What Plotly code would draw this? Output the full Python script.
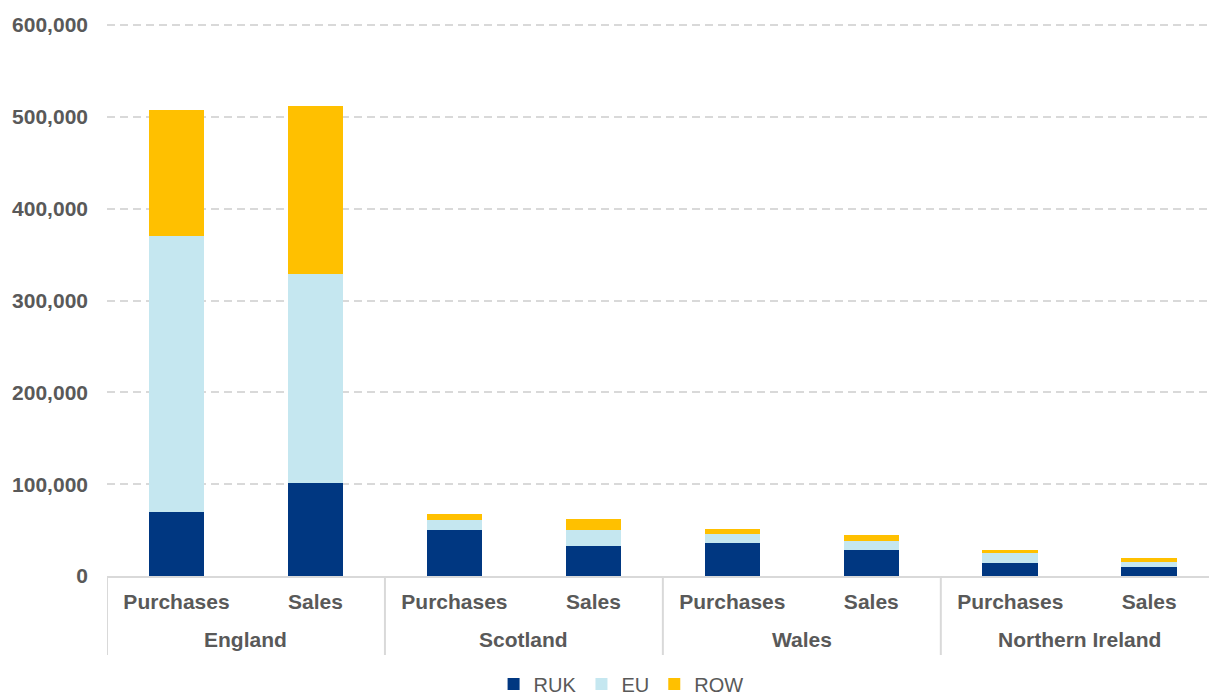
import plotly.graph_objects as go

# Regions and flow types
region_names = ["England", "Scotland", "Wales", "Northern Ireland"]
flows = ["Purchases", "Sales"] * 4

# Values by destination/origin, in region order (Purchases, Sales)
ruk = [70000, 101500, 50000, 32400, 35500, 28000, 14500, 9800]
eu = [300600, 227800, 11500, 17400, 10600, 9800, 10100, 5800]
row = [137000, 183000, 6500, 12000, 5500, 6600, 3700, 4300]

series = [("RUK", ruk, "#003781"), ("EU", eu, "#C5E7F0"), ("ROW", row, "#FFC000")]

FONT = "Liberation Sans, Arial, sans-serif"
GREY = "#595959"
LINE = "#d9d9d9"

positions = list(range(len(flows)))

fig = go.Figure()
for name, vals, color in series:
    fig.add_trace(go.Bar(
        name=name, x=positions, y=vals,
        marker=dict(color=color, line=dict(width=0)),
    ))

# Plot-area geometry (pixels) used for paper-referenced decorations
top, bottom = 24, 119
height = 695
plot_h = height - top - bottom


def paper_y(px):
    """Convert a pixel row into a paper y coordinate."""
    return (height - bottom - px) / plot_h


shapes = []
# group dividers below the category axis
for xb in [-0.5, 1.5, 3.5, 5.5]:
    shapes.append(dict(type="line", xref="x", yref="paper", x0=xb, x1=xb,
                       y0=0, y1=paper_y(655), line=dict(color=LINE, width=2)))

annotations = []
for i, name in enumerate(region_names):
    annotations.append(dict(
        text=f"<b>{name}</b>", xref="x", yref="paper", x=2 * i + 0.5, y=paper_y(639),
        xanchor="center", yanchor="middle", showarrow=False,
        font=dict(family=FONT, size=21, color=GREY),
    ))

fig.update_layout(
    barmode="stack",
    bargap=0.6,
    width=1209, height=height,
    margin=dict(l=107, r=0, t=top, b=bottom, autoexpand=False),
    plot_bgcolor="white", paper_bgcolor="white",
    font=dict(family=FONT, size=21, color=GREY),
    legend=dict(
        orientation="h", traceorder="normal", x=0.4665, xanchor="center",
        y=paper_y(684), yanchor="middle",
        font=dict(family=FONT, size=20, color=GREY),
        itemwidth=30, tracegroupgap=0,
    ),
    shapes=shapes,
    annotations=annotations,
)

fig.update_yaxes(
    range=[0, 601100], tickvals=[0, 100000, 200000, 300000, 400000, 500000, 600000],
    tickformat=",", showgrid=True, gridcolor=LINE, griddash="8px,5px", gridwidth=1.5,
    zeroline=False, showline=False, ticks="", ticklabelstandoff=18, automargin=False,
    tickfont=dict(family=FONT, size=21, color=GREY, weight="bold"),
)
fig.update_xaxes(
    tickvals=positions, ticktext=flows,
    showline=True, linecolor=LINE, linewidth=2, showgrid=False,
    ticks="", range=[-0.5, 7.43], ticklabelstandoff=6, automargin=False,
    tickfont=dict(family=FONT, size=21, color=GREY, weight="bold"),
)

fig.write_html("out.html")
